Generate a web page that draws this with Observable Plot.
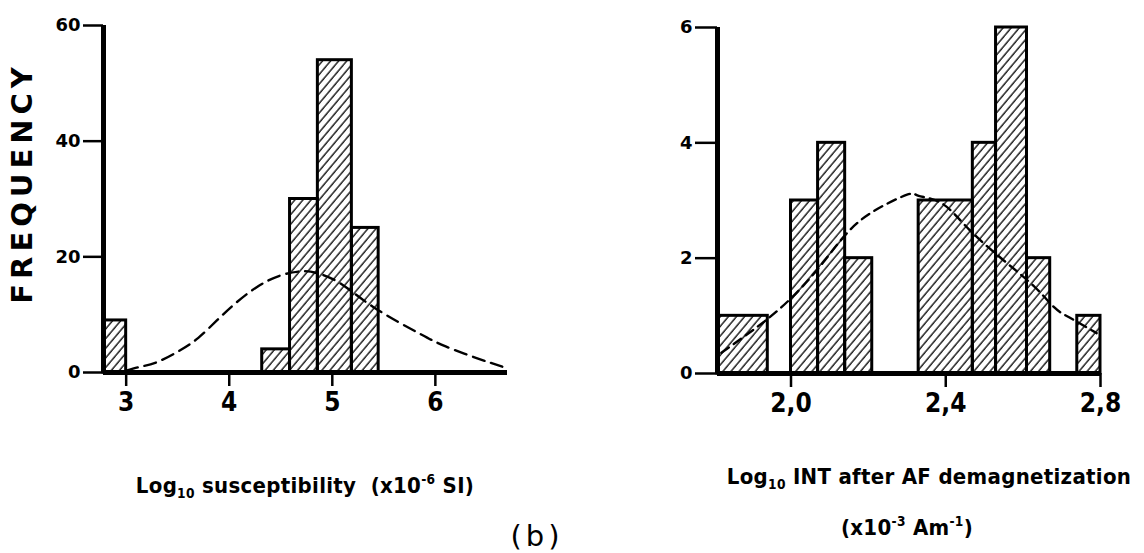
<!DOCTYPE html>
<html><head><meta charset="utf-8">
<script src="https://cdn.jsdelivr.net/npm/d3@7"></script>
<script src="https://cdn.jsdelivr.net/npm/@observablehq/plot@0.6"></script>
<style>
body{margin:0;background:#fff;}
#wrap{position:relative;width:1144px;height:553px;overflow:hidden;background:#fff;font-family:"DejaVu Sans",sans-serif;font-weight:bold;color:#000;}
.lbl{position:absolute;white-space:nowrap;transform:translate(-50%,-50%);line-height:1;}
.ax{font-family:"DejaVu Sans",sans-serif;font-stretch:condensed;font-size:22px;letter-spacing:0.3px;}
.pl{position:absolute;top:0;}
sub,sup{font-size:0.62em;}
</style></head>
<body><div id="wrap">
<svg width="0" height="0" style="position:absolute"><defs>
<pattern id="hatch" patternUnits="userSpaceOnUse" width="6.2" height="10" patternTransform="rotate(40)">
<line x1="1" y1="-2" x2="1" y2="12" stroke="#000" stroke-width="1.3"/></pattern></defs></svg>
<div id="left" class="pl" style="left:0px"></div>
<div id="right" class="pl" style="left:580px"></div>
<div class="lbl" style="left:22px;top:183px;transform:translate(-50%,-50%) rotate(-90deg);font-size:29px;letter-spacing:5px;">FREQUENCY</div>
<div class="lbl ax" style="left:305px;top:487px;">Log<sub>10</sub> susceptibility&nbsp;&nbsp;(x10<sup>-6</sup> SI)</div>
<div class="lbl ax" style="left:929px;top:479px;letter-spacing:0.3px;">Log<sub>10</sub> INT after AF demagnetization</div>
<div class="lbl ax" style="left:907px;top:527px;">(x10<sup>-3</sup> Am<sup>-1</sup>)</div>
<div class="lbl" style="left:537px;top:536px;font-size:29px;font-weight:normal;letter-spacing:4px;">(b)</div>
</div>
<script>
// Left panel: log10 susceptibility histogram
const suscBinLo = [2.78, 4.32, 4.59, 4.86, 5.19];
const suscBinHi = [3.00, 4.59, 4.86, 5.19, 5.45];
const suscFreq = [9, 4, 30, 54, 25];
const suscCurveX = [3.0, 3.14, 3.3, 3.52, 3.7, 3.88, 4.05, 4.27, 4.5, 4.7, 4.85, 5.08, 5.4, 5.85, 6.1, 6.4, 6.65];
const suscCurveY = [0.3, 1, 1.8, 3.8, 6, 9, 11.8, 14.8, 16.8, 17.5, 17.2, 15.4, 11.3, 6.7, 4.5, 2.5, 1];
const suscTicksX = [3, 4, 5, 6];
const suscTicksY = [0, 20, 40, 60];

// Right panel: log10 INT after AF demagnetization
const intBinLo = [1.81, 2.00, 2.07, 2.14, 2.33, 2.47, 2.53, 2.61, 2.74];
const intBinHi = [1.94, 2.07, 2.14, 2.21, 2.47, 2.53, 2.61, 2.67, 2.80];
const intFreq = [1, 3, 4, 2, 3, 4, 6, 2, 1];
const intCurveX = [1.82, 1.94, 2.02, 2.08, 2.14, 2.21, 2.30, 2.33, 2.39, 2.46, 2.55, 2.63, 2.68, 2.72, 2.79];
const intCurveY = [0.36, 0.95, 1.44, 1.9, 2.4, 2.8, 3.1, 3.08, 2.95, 2.5, 1.96, 1.5, 1.15, 0.97, 0.7];
const intTicksX = [2.0, 2.4, 2.8];
const intTicksY = [0, 2, 4, 6];

const narrow = "'Liberation Sans Narrow','DejaVu Sans Condensed',sans-serif";

function panel(o) {
  const bars = o.lo.map((d, i) => ({x1: d, x2: o.hi[i], y: o.freq[i]}));
  const curve = o.cx.map((d, i) => ({x: d, y: o.cy[i]}));
  return Plot.plot({
    width: o.width, height: 430,
    marginLeft: o.ml, marginRight: o.mr, marginTop: o.mt, marginBottom: o.mb,
    style: {background: "#fff", color: "#000", overflow: "visible", fontFamily: "DejaVu Sans, sans-serif", fontWeight: "bold"},
    x: {domain: o.xd, axis: null},
    y: {domain: o.yd, axis: null},
    marks: [
      Plot.rectY(bars, {x1: "x1", x2: "x2", y: "y", fill: "url(#hatch)", stroke: "#000", strokeWidth: 3}),
      Plot.line(curve, {x: "x", y: "y", stroke: "#000", strokeWidth: 2.4, strokeDasharray: o.dash, curve: "natural"}),
      Plot.ruleX([o.xd[0]], {y1: o.yd[0], y2: o.yd[1], stroke: "#000", strokeWidth: 5}),
      Plot.ruleY([0], {x1: o.xd[0], x2: o.xd[1], stroke: "#000", strokeWidth: 5}),
      Plot.axisX({ticks: o.tx, tickFormat: o.fmt, tickSize: 14, tickPadding: 6, strokeWidth: 2.5, fontSize: 26, fontFamily: narrow, fontWeight: "bold", label: null}),
      Plot.axisY({ticks: o.ty, tickFormat: d => String(d), tickSize: o.tys, tickPadding: 3, strokeWidth: 2.5, fontSize: 18, fontWeight: "bold", label: null})
    ]
  });
}

document.getElementById("left").append(panel({
  width: 560, ml: 103, mr: 53, mt: 25, mb: 58,
  xd: [2.78, 6.7], yd: [0, 60],
  lo: suscBinLo, hi: suscBinHi, freq: suscFreq, cx: suscCurveX, cy: suscCurveY,
  tx: suscTicksX, ty: suscTicksY, fmt: d => String(d), tys: 20, dash: "12,7"
}));
document.getElementById("right").append(panel({
  width: 564, ml: 137, mr: 44, mt: 27, mb: 57,
  xd: [1.81, 2.8], yd: [0, 6],
  lo: intBinLo, hi: intBinHi, freq: intFreq, cx: intCurveX, cy: intCurveY,
  tx: intTicksX, ty: intTicksY, fmt: d => d.toFixed(1).replace(".", ","), tys: 22, dash: "9,6"
}));
</script>
</body></html>
